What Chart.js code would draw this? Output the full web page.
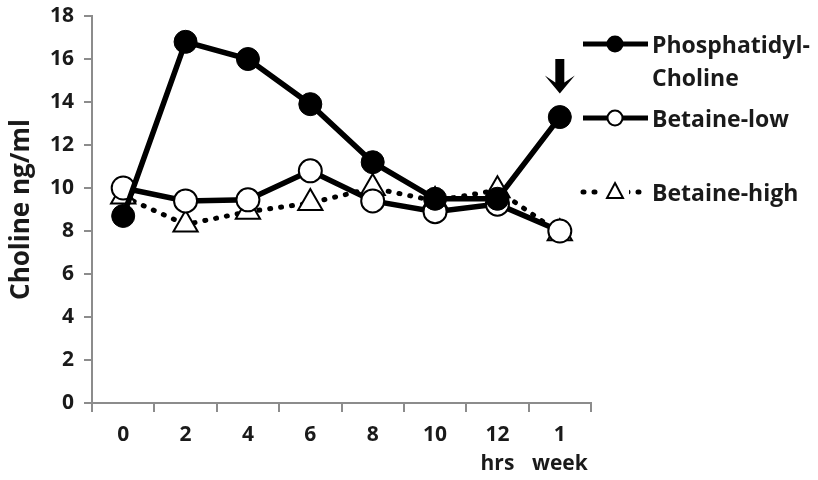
<!DOCTYPE html>
<html>
<head>
<meta charset="utf-8">
<script src="https://cdn.jsdelivr.net/npm/chart.js@4/dist/chart.umd.min.js"></script>
<style>
  html, body { margin: 0; padding: 0; background: #fff; }
  #wrap { position: relative; width: 818px; height: 480px; }
</style>
</head>
<body>
<div id="wrap"><canvas id="chart" width="818" height="480"></canvas></div>
<script>
// x categories (hours, then 1 week)
const timeLabels = [['0'], ['2'], ['4'], ['6'], ['8'], ['10'], ['12', 'hrs'], ['1', 'week']];

// choline ng/ml
const phosphatidylCholine = [8.7, 16.8, 16.0, 13.9, 11.2, 9.5, 9.5, 13.3];
const betaineLow = [10.0, 9.4, 9.45, 10.8, 9.4, 8.9, 9.25, 8.0];
const betaineHigh = [9.6, 8.3, 8.9, 9.3, 10.0, 9.4, 9.9, 7.9];

const seriesNames = ['Phosphatidyl-\nCholine', 'Betaine-low', 'Betaine-high'];

// down arrow above the 1 week PC point
const arrowCategory = 7;
const arrowTop = 16.0;
const arrowBottom = 14.4;

const FONT = '"Open Sans", Lato, sans-serif';
const AXIS_GRAY = '#8c8c8c';

// legend drawn at the right side, like the original
const sideLegend = {
    id: 'sideLegend',
    afterDraw(chart) {
        const ctx = chart.ctx;
        const x0 = chart.chartArea.right - 8;
        const rows = [44, 118, 192];
        ctx.save();
        chart.data.datasets.forEach((ds, i) => {
            const y = rows[i];
            ctx.strokeStyle = '#000';
            ctx.lineWidth = 5;
            ctx.lineCap = ds.borderDash ? 'round' : 'butt';
            ctx.setLineDash(ds.borderDash || []);
            ctx.beginPath();
            ctx.moveTo(x0, y);
            ctx.lineTo(x0 + 65, y);
            ctx.stroke();
            ctx.setLineDash([]);
            ctx.lineWidth = 2;
            const mx = x0 + 32;
            if (ds.pointStyle === 'triangle') {
                ctx.fillStyle = '#fff';
                ctx.fillRect(mx - 14, y - 10, 28, 20);
                ctx.beginPath();
                ctx.moveTo(mx, y - 9);
                ctx.lineTo(mx + 8, y + 6);
                ctx.lineTo(mx - 8, y + 6);
                ctx.closePath();
                ctx.fill();
                ctx.stroke();
            } else {
                ctx.fillStyle = ds.pointBackgroundColor;
                ctx.beginPath();
                ctx.arc(mx, y, 7.5, 0, Math.PI * 2);
                ctx.fill();
                ctx.stroke();
            }
            ctx.fillStyle = '#1a1a1a';
            ctx.font = 'bold 23px ' + FONT;
            ctx.textBaseline = 'middle';
            ds.label.split('\n').forEach((line, k) => {
                ctx.fillText(line, x0 + 69, y + 2 + k * 33);
            });
        });
        ctx.restore();
    }
};

const arrowMark = {
    id: 'arrowMark',
    afterDatasetsDraw(chart) {
        const { ctx, scales } = chart;
        const cx = scales.x.getPixelForValue(arrowCategory);
        const top = scales.y.getPixelForValue(arrowTop);
        const bot = scales.y.getPixelForValue(arrowBottom);
        const head = 18;
        ctx.save();
        ctx.fillStyle = '#000';
        ctx.beginPath();
        ctx.moveTo(cx - 4.5, top);
        ctx.lineTo(cx + 4.5, top);
        ctx.lineTo(cx + 4.5, bot - head + 7);
        ctx.lineTo(cx + 15, bot - head);
        ctx.lineTo(cx, bot);
        ctx.lineTo(cx - 15, bot - head);
        ctx.lineTo(cx - 4.5, bot - head + 7);
        ctx.closePath();
        ctx.fill();
        ctx.restore();
    }
};

new Chart(document.getElementById('chart'), {
    type: 'line',
    data: {
        labels: timeLabels,
        datasets: [
            {
                label: seriesNames[0],
                data: phosphatidylCholine,
                borderColor: '#000',
                borderWidth: 5.5,
                pointStyle: 'circle',
                pointRadius: 11.5,
                pointBackgroundColor: '#000',
                pointBorderColor: '#000',
                pointBorderWidth: 1,
                order: 0
            },
            {
                label: seriesNames[1],
                data: betaineLow,
                borderColor: '#000',
                borderWidth: 5.5,
                pointStyle: 'circle',
                pointRadius: 11.5,
                pointBackgroundColor: '#fff',
                pointBorderColor: '#000',
                pointBorderWidth: 2,
                order: 1
            },
            {
                label: seriesNames[2],
                data: betaineHigh,
                borderColor: '#000',
                borderWidth: 5,
                borderDash: [1, 10],
                borderCapStyle: 'round',
                pointStyle: 'triangle',
                pointRadius: 14,
                pointBackgroundColor: '#fff',
                pointBorderColor: '#000',
                pointBorderWidth: 2,
                order: 2
            }
        ]
    },
    options: {
        responsive: false,
        animation: false,
        layout: { padding: { left: 6, right: 227, top: 7, bottom: 0 } },
        plugins: {
            legend: { display: false },
            tooltip: { enabled: false }
        },
        scales: {
            x: {
                offset: true,
                grid: { offset: true, drawOnChartArea: false, tickLength: 9, color: AXIS_GRAY, lineWidth: 2 },
                border: { color: AXIS_GRAY, width: 2 },
                ticks: { color: '#1a1a1a', font: { family: FONT, size: 21, weight: 'bold', lineHeight: 1.4 }, padding: 8, maxRotation: 0 },
                afterFit(scale) { scale.height = 77; }
            },
            y: {
                min: 0,
                max: 18,
                ticks: { stepSize: 2, color: '#1a1a1a', font: { family: FONT, size: 21, weight: 'bold' }, padding: 10 },
                grid: { drawOnChartArea: false, tickLength: 8, color: AXIS_GRAY, lineWidth: 2 },
                border: { color: AXIS_GRAY, width: 2 },
                title: { display: true, text: 'Choline ng/ml', color: '#1a1a1a', font: { family: FONT, size: 26, weight: 'bold' }, padding: 0 },
                afterFit(scale) { scale.width = 86; scale.paddingTop = 0; }
            }
        }
    },
    plugins: [sideLegend, arrowMark]
});
</script>
</body>
</html>
